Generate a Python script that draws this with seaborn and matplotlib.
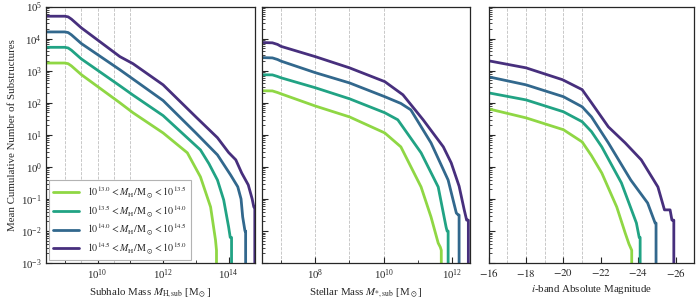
import numpy as np
import matplotlib
matplotlib.use("Agg")
import matplotlib.pyplot as plt
import matplotlib.ticker as mticker
import seaborn as sns

# bins of host halo mass
bin_labels = [
    r"$10^{13.0} < M_{\rm H}/{\rm M}_\odot < 10^{13.5}$",
    r"$10^{13.5} < M_{\rm H}/{\rm M}_\odot < 10^{14.0}$",
    r"$10^{14.0} < M_{\rm H}/{\rm M}_\odot < 10^{14.5}$",
    r"$10^{14.5} < M_{\rm H}/{\rm M}_\odot < 10^{15.0}$",
]
bin_colors = ["#8fd744", "#21a384", "#32688d", "#472f7d"]

# subhalo mass panel: log10 M_H,sub  ->  log10 N(>M)
sub_x_green = [8.43, 9.0, 9.1, 9.2, 9.5, 10.68, 11.08, 12.0, 12.74, 13.14, 13.45, 13.6, 13.63, 13.63]
sub_y_green = [3.24, 3.24, 3.22, 3.15, 2.88, 2.0, 1.69, 1.06, 0.44, -0.31, -1.25, -2.28, -2.6, -3.0]
sub_x_teal = [8.43, 9.0, 9.1, 9.2, 9.5, 10.68, 11.08, 12.0, 13.14, 13.4, 13.66, 13.85, 14.0, 14.05, 14.09, 14.09]
sub_y_teal = [3.73, 3.73, 3.71, 3.64, 3.37, 2.53, 2.24, 1.6, 0.53, 0.1, -0.41, -1.03, -1.87, -2.2, -2.2, -3.0]
sub_x_blue = [8.43, 9.0, 9.1, 9.2, 9.5, 10.68, 11.08, 12.0, 13.0, 13.66, 14.06, 14.28, 14.38, 14.43, 14.5, 14.52, 14.52]
sub_y_blue = [4.21, 4.21, 4.19, 4.12, 3.85, 3.03, 2.74, 2.07, 1.06, 0.375, -0.25, -0.62, -1.0, -1.56, -2.0, -2.0, -3.0]
sub_x_purple = [8.43, 9.0, 9.1, 9.2, 9.5, 10.68, 11.08, 12.0, 13.0, 13.66, 14.0, 14.22, 14.4, 14.6, 14.72, 14.77, 14.8, 14.8]
sub_y_purple = [4.70, 4.70, 4.68, 4.61, 4.34, 3.44, 3.22, 2.56, 1.56, 0.91, 0.45, 0.22, -0.19, -0.56, -1.0, -1.25, -1.25, -3.0]

# stellar mass panel: log10 M*,sub  ->  log10 N(>M*)
star_x_green = [6.44, 6.75, 6.9, 7.0, 8.0, 9.0, 10.03, 10.5, 11.09, 11.38, 11.59, 11.65, 11.68, 11.68]
star_y_green = [2.375, 2.37, 2.32, 2.28, 1.9, 1.56, 1.06, 0.625, -0.625, -1.56, -2.375, -2.5, -2.6, -3.0]
star_x_teal = [6.44, 6.75, 6.9, 7.0, 8.0, 9.0, 10.03, 10.41, 11.09, 11.59, 11.82, 11.85, 11.88, 11.88]
star_y_teal = [2.875, 2.87, 2.82, 2.78, 2.47, 2.125, 1.69, 1.47, 0.44, -0.625, -1.875, -2.0, -2.0, -3.0]
star_x_blue = [6.44, 6.75, 6.9, 7.0, 8.0, 9.0, 10.03, 10.5, 10.79, 11.38, 11.88, 12.12, 12.18, 12.2, 12.2]
star_y_blue = [3.41, 3.40, 3.35, 3.30, 2.94, 2.62, 2.19, 1.98, 1.78, 0.75, -0.41, -1.44, -1.5, -1.5, -3.0]
star_x_purple = [6.44, 6.75, 6.9, 7.0, 8.0, 9.0, 10.03, 10.56, 11.15, 11.74, 11.97, 12.2, 12.35, 12.42, 12.47, 12.47]
star_y_purple = [3.88, 3.87, 3.82, 3.76, 3.44, 3.09, 2.66, 2.25, 1.47, 0.625, 0.125, -0.6, -1.34, -1.66, -1.66, -3.0]

# i-band magnitude panel: M_i  ->  log10 N(<M_i)
mag_x_green = [-16, -18, -20, -21, -21.5, -22.05, -22.85, -23.3, -23.5, -23.65, -23.65]
mag_y_green = [1.81, 1.53, 1.16, 0.78, 0.35, -0.19, -1.25, -2.06, -2.4, -2.6, -3.0]
mag_x_teal = [-16, -18, -20, -21, -21.5, -22.05, -23.1, -23.9, -24.05, -24.1, -24.1]
mag_y_teal = [2.31, 2.09, 1.72, 1.41, 1.1, 0.625, -0.5, -1.75, -2.2, -2.2, -3.0]
mag_x_blue = [-16, -18, -20, -21, -21.5, -22.4, -23.6, -24.5, -24.9, -24.95, -24.95]
mag_y_blue = [2.81, 2.56, 2.19, 1.875, 1.56, 0.75, -0.41, -1.125, -1.75, -1.75, -3.0]
mag_x_purple = [-16, -18, -19.95, -21, -21.5, -22.4, -23.3, -24.16, -25.05, -25.4, -25.7, -25.8, -25.9, -25.9]
mag_y_purple = [3.31, 3.09, 2.72, 2.41, 2.0, 1.25, 0.75, 0.22, -0.625, -1.34, -1.34, -1.66, -1.66, -3.0]

sub_guides = [9.0, 9.5, 10.0, 10.5, 11.0]
star_guides = [7.0, 8.0, 9.0, 10.0]
mag_guides = [-17, -18, -19, -20, -21]

sub_ticks = [10, 12, 14]
star_ticks = [8, 10, 12]
mag_ticks = [-16, -18, -20, -22, -24, -26]

sns.set_style("ticks")
plt.rcParams['font.family'] = ['Liberation Serif', 'DejaVu Serif']
plt.rcParams['mathtext.fontset'] = 'stix'
plt.rcParams['font.size'] = 7.8
plt.rcParams['axes.linewidth'] = 0.9

fig = plt.figure(figsize=(7, 3), dpi=100)
ax1 = fig.add_axes([0.066, 0.123, 0.298, 0.855])
ax2 = fig.add_axes([0.374, 0.123, 0.298, 0.855], sharey=ax1)
ax3 = fig.add_axes([0.698, 0.123, 0.294, 0.855], sharey=ax1)

panels = [
    (ax1, True, [sub_x_green, sub_x_teal, sub_x_blue, sub_x_purple],
     [sub_y_green, sub_y_teal, sub_y_blue, sub_y_purple], sub_guides),
    (ax2, True, [star_x_green, star_x_teal, star_x_blue, star_x_purple],
     [star_y_green, star_y_teal, star_y_blue, star_y_purple], star_guides),
    (ax3, False, [mag_x_green, mag_x_teal, mag_x_blue, mag_x_purple],
     [mag_y_green, mag_y_teal, mag_y_blue, mag_y_purple], mag_guides),
]

for ax, logx, xs, ys, guides in panels:
    for g in guides:
        ax.axvline(10.0 ** g if logx else g, color="0.75", ls="--", lw=0.6, zorder=0)
    for xv, yv, col, lab in zip(xs, ys, bin_colors, bin_labels):
        xv = np.array(xv, dtype=float)
        xv = 10.0 ** xv if logx else xv
        sns.lineplot(x=xv, y=10.0 ** np.array(yv), ax=ax, color=col, lw=2.0,
                     estimator=None, sort=False, label=lab, legend=False)
    if logx:
        ax.set_xscale("log")
    ax.set_yscale("log")

ax1.set_ylim(1e-3, 1e5)
ax1.set_xlim(10 ** 8.43, 10 ** 14.8)
ax2.set_xlim(10 ** 6.44, 10 ** 12.53)
ax3.set_xlim(-16, -27)
ax1.set_yticks([10.0 ** k for k in range(-3, 6)])
ax1.set_xticks([10.0 ** k for k in sub_ticks])
ax2.set_xticks([10.0 ** k for k in star_ticks])
for ax in (ax1, ax2):
    ax.xaxis.set_minor_locator(mticker.LogLocator(base=10, subs=(1.0,), numticks=30))
    ax.xaxis.set_minor_formatter(mticker.NullFormatter())
ax3.set_xticks(mag_ticks)
ax3.set_xticklabels([r"$%d$" % t for t in mag_ticks])

for ax in (ax1, ax2, ax3):
    ax.tick_params(which="both", direction="in", top=False, right=False)
    ax.tick_params(which="major", length=4, width=0.8, pad=3)
    ax.tick_params(which="minor", length=2, width=0.6)
ax2.tick_params(labelleft=False)
ax3.tick_params(labelleft=False)

ax1.set_ylabel("Mean Cumulative Number of Substructures", labelpad=3)
ax1.set_xlabel(r"Subhalo Mass $M_{\rm H,sub}$ [M$_\odot$]", labelpad=3)
ax2.set_xlabel(r"Stellar Mass $M_{*,\rm sub}$ [M$_\odot$]", labelpad=3)
ax3.set_xlabel(r"$i$-band Absolute Magnitude", labelpad=3)

leg = ax1.legend(handles=ax1.get_lines()[len(sub_guides):], loc="lower left",
                 fontsize=7.2, handlelength=2.6, fancybox=False, framealpha=1,
                 edgecolor="0.7", borderaxespad=0.3, labelspacing=0.3)
leg.get_frame().set_linewidth(0.8)

fig.savefig("out.png", dpi=100)
